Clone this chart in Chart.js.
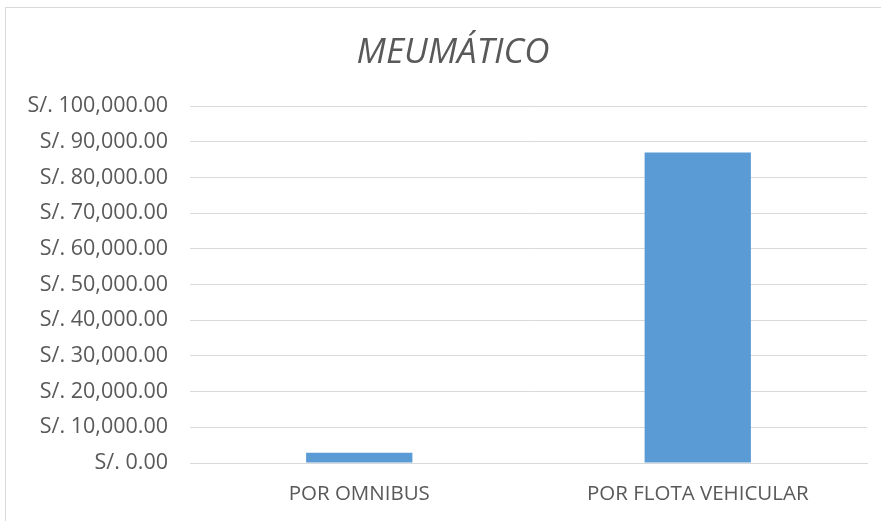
<!DOCTYPE html>
<html>
<head>
<meta charset="utf-8">
<script src="https://cdn.jsdelivr.net/npm/chart.js@4/dist/chart.umd.min.js"></script>
<style>
html,body{margin:0;padding:0;background:#fff;overflow:hidden;width:881px;height:521px;}
#wrap{position:absolute;left:0;top:0;width:881px;height:521px;overflow:hidden;}
#frame{position:absolute;left:5px;top:7px;width:900px;height:540px;border:1px solid #D9D9D9;box-sizing:border-box;}
canvas{position:absolute;left:0;top:0;}
</style>
</head>
<body>
<div id="wrap">
<div id="frame"></div>
<canvas id="c" width="906" height="521"></canvas>
</div>
<script>
const categories = ["POR OMNIBUS", "POR FLOTA VEHICULAR"];
const values = [2900, 87000];
const chartTitle = "MEUMÁTICO";

function fmt(v){
  return "S/. " + Number(v).toLocaleString("en-US",{minimumFractionDigits:2, maximumFractionDigits:2});
}

new Chart(document.getElementById("c"), {
  type: "bar",
  data: {
    labels: categories,
    datasets: [{
      data: values,
      backgroundColor: "#5B9BD5",
      borderWidth: 0,
      barPercentage: 0.314,
      categoryPercentage: 1.0
    }]
  },
  options: {
    responsive: false,
    animation: false,
    devicePixelRatio: 1,
    layout: { padding: { left: 0, right: 0, top: 0, bottom: 0 } },
    plugins: {
      legend: { display: false },
      tooltip: { enabled: false },
      title: {
        display: true,
        text: chartTitle,
        color: "#595959",
        font: { family: "'Open Sans', 'Noto Sans', sans-serif", size: 35, style: "italic", weight: "normal" },
        padding: { top: 32, bottom: 32 }
      }
    },
    scales: {
      x: {
        grid: { display: false, drawTicks: false },
        border: { display: true, color: "#D9D9D9", width: 1 },
        ticks: {
          color: "#595959",
          font: { family: "'Open Sans', 'Noto Sans', sans-serif", size: 20.5 },
          padding: 19
        },
        afterFit: s => { s.height = 58; }
      },
      y: {
        min: 0, max: 100000,
        grid: { color: "#D9D9D9", lineWidth: 1, drawTicks: false },
        border: { display: false },
        ticks: {
          stepSize: 10000,
          color: "#595959",
          font: { family: "'Open Sans', 'Noto Sans', sans-serif", size: 21.5 },
          padding: 22,
          callback: v => fmt(v)
        },
        afterFit: s => { s.width = 190; }
      },
      yPad: {
        position: "right",
        display: true,
        min: 0, max: 100000,
        grid: { display: false, drawTicks: false },
        border: { display: false },
        ticks: { display: false },
        afterFit: s => { s.width = 39; }
      }
    }
  }
});
</script>
</body>
</html>
